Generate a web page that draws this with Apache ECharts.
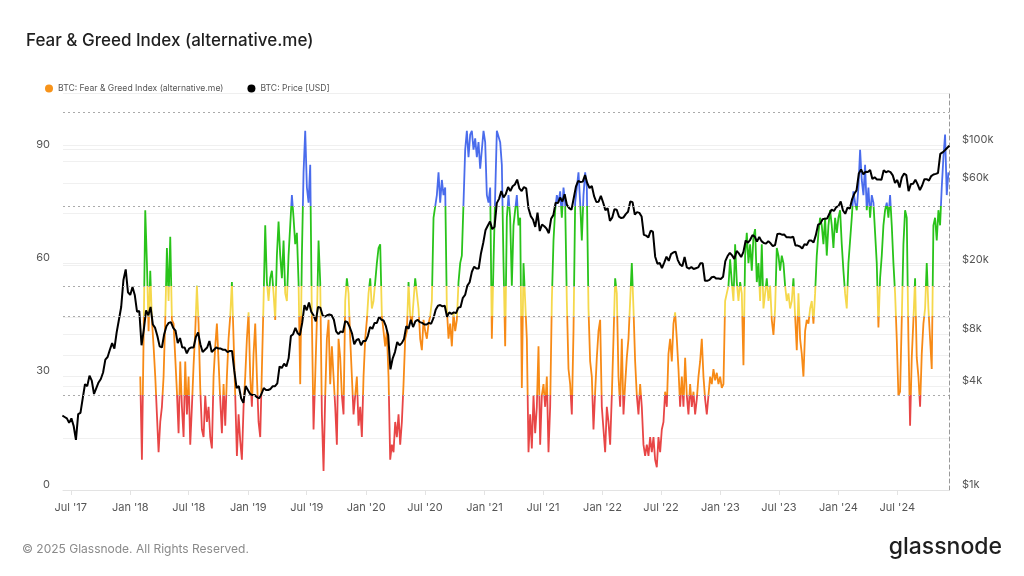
<!DOCTYPE html>
<html><head><meta charset="utf-8">
<script src="https://cdn.jsdelivr.net/npm/echarts@6/dist/echarts.min.js"></script>
<style>html,body{margin:0;padding:0;background:#fff}#c{width:1024px;height:576px}</style>
</head><body><div id="c"></div>
<script>
// ---------- DATA ----------
// Fear & Greed index readings, sampled about every 5.16 days from 2018-02-01
const fgStart = '2018-02-01';
const fgStepDays = 5.155;
const fgPart1 = [30,8,40,74,60,42,58,45,38,30, 20,10,18,22,30,45,64,50,67,45, 44,35,26,15,34,22,14,34,20,30,
  12,22,33,42,54,44,27,16,14,25, 18,22,14,11,30,38,44,34,24,15, 28,17,30,40,46,55,40,25,9,20,
  13,8,22,30,40,47,30,22,36,44, 30,18,14,32,50,70,55,50,56,58, 52,45,62,71,62,56,66,52,50,62,
  70,78,72,65,68,55,28,62,84,95, 80,76,86,45,16,30,45,66,55,20, 5,25,40,45,28,38,30,22,12,40,
  35,25,20,50,56,52,40,30,20];
const fgPart2 = [20,30,17,22,14,30,40,45,52,56, 48,50,55,60,64,65,46,42,38,42, 30,8,12,10,18,14,20,12,18,28,
  40,42,55,46,44,50,56,52,48,40, 37,45,42,40,44,46,50,72,72,78, 84,76,82,78,80,48,40,44,38,47,
  42,45,55,60,62,76,90,95,88,94, 95,90,93,88,92,85,90,95,92,78, 76,80,40,60,78,95,95,92,86,60,
  38,72,78,72,54,70,74,78,70,72, 27,60,50,40,10,20,11,25,15,22, 38,12,25,28,22,30,10,22,50,66,
  74,78,76,79,72,80,76,50,32,28, 20,42];
const fgPart3 = [76,80,84,76,66,78,84,80,48,34, 30,16,26,35,42,45,22,16,10,22, 18,12,25,40,56,52,30,22,40,20,
  28,35,40,50,60,48,34,25,20,28, 22,12,9,12,9,14,10,14,8,6, 14,10,16,18,26,22,36,40,34,44,
  47,40,32,22,30,22,35,25,20,28, 22,26,20,24,30,34,40,30,24,20, 25,30,28,32,29,31,28,30,27,28,
  50,52,54,61,55,50,65,55,50,55, 52,33,62,68,60,65,58,67,69,55, 60,50,65,48,52,56,50,54,45,41,
  48,64,62,58,62,60,54,50,52,48, 50,56];
const fgPart4 = [46,37,52,40,36,30,42,45,44,48, 50,44,52,62,68,72,70,65,72,62, 70,74,70,64,72,68,72,74,65,58,
  52,48,60,66,72,79,76,74,80,90, 82,78,86,74,80,72,78,76,68,60, 43,56,62,70,74,76,72,78,70,60,
  52,40,25,26,45,65,74,72,40,17, 35,45,56,35,30,22,36,44,48,60, 48,40,32,70,72,66,74,70,80,88,
  94,78,84];

// BTC price (USD), weekly (Mondays), one array per year
const priceStarts = ['2017-06-05','2018-01-01','2019-01-07','2020-01-06','2021-01-04','2022-01-03','2023-01-02','2024-01-01'];
const price2017 = [2700,2650,2600,2450, 2600,2350,1950,2750,2800, 3400,4100,4000,4600, 4300,3600,3900,4200,
  4400,4800,5700,5900,6500, 7100,6600,8200,9700, 11500,16500,19000,14000];
const price2018 = [13500,15000,13500,10800,10900, 6900,8500,11000,10300, 11500,9100,8700,7800, 6800,6700,8000,8900,9300,
  9400,8700,8400,7100, 7600,6700,6700,6200, 6600,6700,6700,7700,8200, 7000,6300,6500,6700, 7300,6300,6500,6700,
  6600,6600,6500,6500,6300, 6400,6400,4900,3900, 4000,3400,3200,4000,3800];
const price2019 = [3600,3550,3550,3450, 3400,3600,3900,3800, 3800,3850,4000,4000, 4150,5200,5100,5400,5200,
  5800,7800,8000,8700, 8100,7900,9300,11800, 11000,12200,10800,10300,9500, 11500,11400,10300,10100,
  10300,10400,10300,9700,8300, 8000,8300,8200,9500, 9400,8800,8100,7000, 7400,7500,6900,7300,7300];
const price2020 = [7800,8800,8600,9300, 9300,10100,9700,9600, 8900,7900,5000,5800,6300, 7200,6900,7100,7500,
  8900,8600,9700,8800, 9500,9700,9400,9300,9100, 9100,9300,9200,9900, 11100,11700,11800,11600,11700,
  10100,10700,10500,10700, 10600,11400,11500,13000, 13500,15300,16000,18400,19700, 19200,19200,23500,27000];
const price2021 = [32000,34000,36000,32500, 33500,46000,48700,54000, 49600,52000,57000,54000,57600, 59000,63000,56000,54000,
  57000,56000,43000,38700,37000, 33500,40500,31700,34600, 33800,32700,30800,37300, 39200,46300,46000,49500,47000,
  51800,44900,43000,42100, 49100,57500,62000,60900, 61300,66900,60000,56300,57800, 50500,46700,46900,50700];
const price2022 = [46400,41800,43000,36300,37900, 42400,42100,38400,37700, 38000,39700,41000,47000, 46600,39500,40800,40400,
  38500,30100,29800,29100,31800, 31400,22500,20500,20700, 19300,20800,22500,21300, 23300,23800,24100,21500,20300,
  19800,22400,19500,19200, 19600,19100,19300,19500,20600, 20600,16300,16300,16500, 17100,17200,16800,16800];
const price2023 = [16700,17200,21200,22700,23700, 22900,21800,24300,23500, 22400,24000,28000,27100, 28200,30000,29400,27500,
  29300,27700,27000,26800,27700, 26900,25900,26300,30500, 30600,30200,30300,29200,29200, 29100,29400,26100,26100,
  25800,25100,26600,26300, 27900,27900,27200,30000,34500, 35000,37100,37400,37500, 39900,42200,41400,43600];
const price2024 = [44200,47000,41700,39900,43300, 42700,48300,52100,54500, 68300,72100,67600,69900, 69700,71600,63400,64900,63100,
  63100,62900,71400,69400, 70500,69600,66600,60300, 62700,56700,64800,68200,66800, 54000,59300,59500,62900,
  59100,54800,58200,63300,63300, 62200,66000,67400,68000, 68800,88700,90500,93000, 96000,99000];

const xTickDates = ['2017-07-01','2018-01-01','2018-07-01','2019-01-01','2019-07-01','2020-01-01','2020-07-01','2021-01-01',
  '2021-07-01','2022-01-01','2022-07-01','2023-01-01','2023-07-01','2024-01-01','2024-07-01'];
const xRange = ['2017-06-07','2024-12-08'];
const fgTicks = [0,30,60,90];
const fgBands = [25,46,54,75,100];
const priceTickValues = [1000,4000,8000,20000,60000,100000];
const priceGridValues = [2000,4000,6000,8000,10000,20000,40000,60000,80000,100000];

// ---------- BUILD ----------
const DAY = 86400000;
const fgAll = fgPart1.concat(fgPart2, fgPart3, fgPart4);
const fgT0 = Date.parse(fgStart);
const fgData = fgAll.map((v, i) => [fgT0 + i * fgStepDays * DAY, v]);
const priceYears = [price2017, price2018, price2019, price2020, price2021, price2022, price2023, price2024];
const priceData = [];
priceYears.forEach((arr, k) => {
  const t0 = Date.parse(priceStarts[k]);
  arr.forEach((v, i) => priceData.push([t0 + i * 7 * DAY, v]));
});
const MONTHS = ['Jan','Feb','Mar','Apr','May','Jun','Jul','Aug','Sep','Oct','Nov','Dec'];
const FONT = 'Inter, "Noto Sans", sans-serif';
const xTickTs = xTickDates.map(d => Date.parse(d));

const chart = echarts.init(document.getElementById('c'), null, {renderer: 'canvas'});
chart.setOption({
  animation: false,
  backgroundColor: '#ffffff',
  textStyle: {fontFamily: FONT},
  title: {
    text: 'Fear & Greed Index (alternative.me)', left: 21, top: 27,
    textStyle: {fontSize: 17, fontWeight: 500, color: '#1f1f1f', fontFamily: FONT}
  },
  legend: {
    left: 40, top: 79, icon: 'circle', itemWidth: 8, itemHeight: 8, itemGap: 24,
    textStyle: {fontSize: 8.6, color: '#555', fontFamily: FONT},
    data: [{name: 'BTC: Fear & Greed Index (alternative.me)', itemStyle: {color: '#f7931a'}},
           {name: 'BTC: Price [USD]', itemStyle: {color: '#000'}}]
  },
  grid: {left: 63, right: 75, top: 93, bottom: 86},
  visualMap: {
    show: false, type: 'piecewise', seriesIndex: 0, dimension: 1,
    pieces: [
      {lt: fgBands[0], color: '#e84646'},
      {gte: fgBands[0], lt: fgBands[1], color: '#f78a16'},
      {gte: fgBands[1], lt: fgBands[2], color: '#f5d84c'},
      {gte: fgBands[2], lt: fgBands[3], color: '#29c31a'},
      {gte: fgBands[3], color: '#4a6cec'}
    ]
  },
  xAxis: {
    type: 'value', min: Date.parse(xRange[0]), max: Date.parse(xRange[1]),
    axisLine: {show: true, lineStyle: {color: '#e3e3e3'}},
    axisTick: {show: true, length: 5, lineStyle: {color: '#e3e3e3'}, customValues: xTickTs},
    splitLine: {show: false},
    axisLabel: {
      color: '#555', fontSize: 11, margin: 12, fontFamily: FONT,
      customValues: xTickTs,
      formatter: v => { const d = new Date(v); return MONTHS[d.getUTCMonth()] + " '" + String(d.getUTCFullYear()).slice(2); }
    }
  },
  yAxis: [
    {
      type: 'value', min: 0, max: 105, interval: 30,
      axisLine: {show: false}, axisTick: {show: false},
      splitLine: {show: true, lineStyle: {color: '#efefef'}},
      axisLabel: {color: '#555', fontSize: 11, margin: 13, verticalAlign: 'bottom', showMaxLabel: false, fontFamily: FONT}
    },
    {
      type: 'log', logBase: 10, min: 1000, max: 200000, position: 'right',
      axisLine: {show: true, lineStyle: {color: '#999', type: [4, 3], width: 1}},
      axisTick: {show: false},
      splitLine: {show: false},
      axisLabel: {
        color: '#555', fontSize: 11, margin: 13, verticalAlign: 'bottom', fontFamily: FONT,
        customValues: priceTickValues,
        formatter: v => '$' + Math.round(v / 1000) + 'k'
      }
    }
  ],
  series: [
    {
      name: 'BTC: Fear & Greed Index (alternative.me)', type: 'line', yAxisIndex: 0,
      data: fgData, showSymbol: false, symbol: 'none', color: '#f7931a',
      lineStyle: {width: 1.8}, z: 3,
      markLine: {
        silent: true, symbol: 'none', label: {show: false},
        lineStyle: {color: '#aaa', type: [2, 3], width: 1},
        data: fgBands.map(b => ({yAxis: b}))
      }
    },
    {
      name: 'BTC: Price [USD]', type: 'line', yAxisIndex: 1,
      data: priceData, showSymbol: false, symbol: 'none', color: '#000',
      lineStyle: {width: 2, color: '#000'}, z: 4,
      markLine: {
        silent: true, symbol: 'none', label: {show: false}, z: 1,
        lineStyle: {color: '#f0f0f0', type: 'solid', width: 1},
        data: priceGridValues.map(p => ({yAxis: p}))
      }
    }
  ],
  graphic: [
    {type: 'text', left: 22, top: 543, style: {text: '© 2025 Glassnode. All Rights Reserved.', fill: '#8a8a8a', fontSize: 12, fontFamily: FONT}},
    {type: 'text', right: 22, top: 536, style: {text: 'glassnode', fill: '#1f1f1f', fontSize: 23, fontWeight: 500, fontFamily: FONT}}
  ]
});
</script></body></html>
